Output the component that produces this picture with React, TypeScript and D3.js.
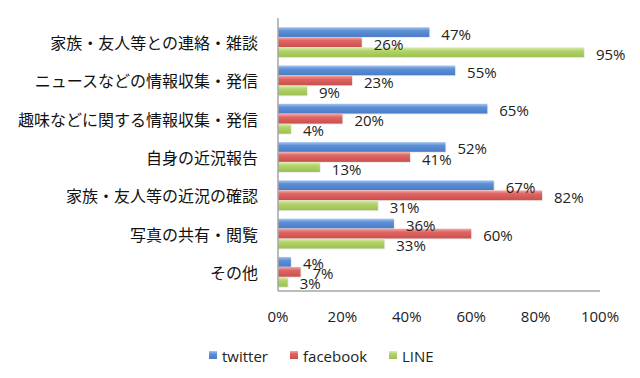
import React from "react";
import * as d3 from "d3";

const categories = [
  "家族・友人等との連絡・雑談",
  "ニュースなどの情報収集・発信",
  "趣味などに関する情報収集・発信",
  "自身の近況報告",
  "家族・友人等の近況の確認",
  "写真の共有・閲覧",
  "その他",
];
const seriesNames = ["twitter", "facebook", "LINE"];
const twitter = [47, 55, 65, 52, 67, 36, 4];
const facebook = [26, 23, 20, 41, 82, 60, 7];
const line = [95, 9, 4, 13, 31, 33, 3];
const xTicks = [0, 20, 40, 60, 80, 100];

const seriesValues = [twitter, facebook, line];
const colors = [
  { top: "#a9c6ef", mid: "#5c90d8", bot: "#4a7cc4" },
  { top: "#f3a9a7", mid: "#e06462", bot: "#c9504e" },
  { top: "#dcedb4", mid: "#b3d46a", bot: "#9cbf52" },
];

const W = 640;
const H = 378;
const FONT_JP = "'Noto Sans CJK JP', 'Noto Sans', sans-serif";
const FONT_LAT = "'Open Sans', 'Noto Sans', sans-serif";

export default function App() {
  const x = d3.scaleLinear().domain([0, 100]).range([278, 600]);
  const y = d3
    .scaleBand<string>()
    .domain(categories)
    .range([23, 291])
    .paddingInner(0.22)
    .paddingOuter(0.11);
  const inner = d3
    .scaleBand<string>()
    .domain(seriesNames)
    .range([0, y.bandwidth()])
    .paddingInner(0.03);

  return (
    <svg
      width={W}
      height={H}
      style={{ position: "absolute", left: 0, top: 0, background: "#fff" }}
      fontFamily={FONT_LAT}
    >
      <defs>
        {colors.map((c, i) => (
          <linearGradient key={i} id={`g${i}`} x1="0" y1="0" x2="0" y2="1">
            <stop offset="0" stopColor={c.top} />
            <stop offset="0.35" stopColor={c.mid} />
            <stop offset="1" stopColor={c.bot} />
          </linearGradient>
        ))}
      </defs>
      <rect x={0} y={0} width={W} height={H} fill="#fff" />

      {/* bars */}
      {categories.map((cat, ci) =>
        seriesNames.map((s, si) => {
          const v = seriesValues[si][ci];
          const by = (y(cat) ?? 0) + (inner(s) ?? 0);
          const bh = inner.bandwidth();
          return (
            <g key={`${ci}-${si}`}>
              <rect
                x={x(0)}
                y={by + 1}
                width={x(v) - x(0) + 1}
                height={bh}
                fill="#000"
                opacity={0.08}
              />
              <rect
                x={x(0)}
                y={by}
                width={x(v) - x(0)}
                height={bh}
                fill={`url(#g${si})`}
              />
            </g>
          );
        })
      )}

      {/* value labels */}
      {categories.map((cat, ci) =>
        seriesNames.map((s, si) => {
          const v = seriesValues[si][ci];
          const by = (y(cat) ?? 0) + (inner(s) ?? 0);
          const bh = inner.bandwidth();
          return (
            <text
              key={`l${ci}-${si}`}
              x={x(v) + 12}
              y={by + bh / 2 + 1.5}
              dominantBaseline="central"
              fontSize={15}
              fill="#222"
            >
              {v}%
            </text>
          );
        })
      )}

      {/* axes */}
      <line x1={x(0)} x2={x(0)} y1={18} y2={291} stroke="#a6a6a6" strokeWidth={1.5} />
      <line x1={x(0)} x2={x(100)} y1={291} y2={291} stroke="#a6a6a6" strokeWidth={1.5} />

      {/* category labels */}
      {categories.map((cat) => (
        <text
          key={cat}
          x={258}
          y={(y(cat) ?? 0) + y.bandwidth() / 2}
          textAnchor="end"
          dominantBaseline="central"
          fontSize={16}
          fontFamily={FONT_JP}
          fill="#111"
        >
          {cat}
        </text>
      ))}

      {/* tick labels */}
      {xTicks.map((t) => (
        <text
          key={t}
          x={x(t)}
          y={316}
          textAnchor="middle"
          dominantBaseline="central"
          fontSize={15}
          fill="#222"
        >
          {t}%
        </text>
      ))}

      {/* legend */}
      {seriesNames.map((s, i) => {
        const lx = [209, 290, 389][i];
        return (
          <g key={s}>
            <rect x={lx} y={351} width={8} height={8} fill={`url(#g${i})`} />
            <text
              x={lx + 13}
              y={356}
              dominantBaseline="central"
              fontSize={15}
              fill="#222"
            >
              {s}
            </text>
          </g>
        );
      })}
    </svg>
  );
}
